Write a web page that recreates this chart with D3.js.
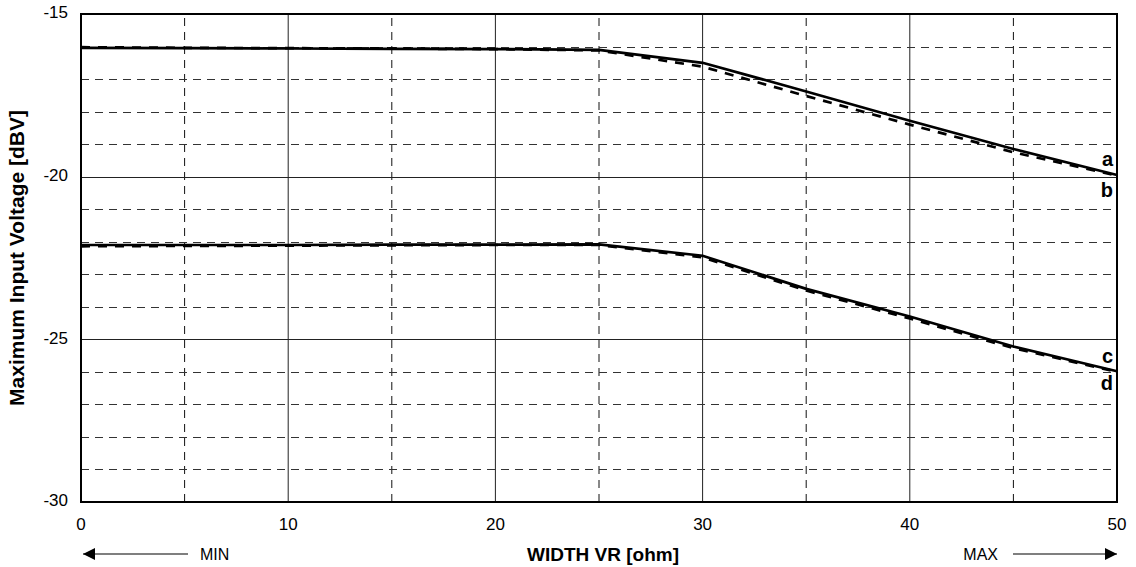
<!DOCTYPE html>
<html>
<head>
<meta charset="utf-8">
<script src="https://cdn.jsdelivr.net/npm/d3@7"></script>
<style>
  body { margin: 0; background: #fff; }
  svg { font-family: "Liberation Sans", Arial, sans-serif; }
</style>
</head>
<body>
<svg id="chart"></svg>
<script>
// data
var xPts = [0, 5, 10, 15, 20, 25, 30, 35, 40, 45, 50];
var seriesA = [-16.04, -16.05, -16.06, -16.07, -16.08, -16.1, -16.5, -17.38, -18.28, -19.15, -19.95];
var seriesB = [-16.02, -16.04, -16.05, -16.06, -16.08, -16.12, -16.62, -17.52, -18.4, -19.25, -19.97];
var seriesC = [-22.1, -22.1, -22.1, -22.09, -22.09, -22.08, -22.43, -23.45, -24.3, -25.22, -25.98];
var seriesD = [-22.14, -22.13, -22.12, -22.11, -22.1, -22.1, -22.48, -23.5, -24.36, -25.27, -26.0];
var xTicks = [0, 10, 20, 30, 40, 50];
var yTicks = [-15, -20, -25, -30];
var seriesLabels = ["a", "b", "c", "d"];
var labelValues = [-19.5, -20.45, -25.55, -26.4];

var width = 1136, height = 567;
var margin = {left: 81, right: 19, top: 14, bottom: 65};
var svg = d3.select("#chart").attr("width", width).attr("height", height);

var x = d3.scaleLinear().domain([0, 50]).range([margin.left, width - margin.right]);
var y = d3.scaleLinear().domain([-30, -15]).range([height - margin.bottom, margin.top]);

// grid
var g = svg.append("g");
d3.range(5, 50, 5).forEach(function(v) {
  var solid = v % 10 == 0;
  g.append("line")
    .attr("x1", x(v)).attr("x2", x(v))
    .attr("y1", y(-30)).attr("y2", y(-15))
    .attr("stroke", solid ? "#222" : "#111")
    .attr("stroke-width", 1)
    .attr("stroke-dasharray", solid ? null : "8,6");
});
d3.range(-29, -15, 1).forEach(function(v) {
  var solid = v % 5 == 0;
  g.append("line")
    .attr("x1", x(0)).attr("x2", x(50))
    .attr("y1", Math.round(y(v)) + 0.5).attr("y2", Math.round(y(v)) + 0.5)
    .attr("stroke", solid ? "#222" : "#333")
    .attr("stroke-width", 1)
    .attr("stroke-dasharray", solid ? null : "8,6");
});

// curves
var line = d3.line()
  .x(function(d, i) { return x(xPts[i]); })
  .y(function(d) { return y(d); });

[[seriesB, true], [seriesD, true], [seriesA, false], [seriesC, false]].forEach(function(s) {
  svg.append("path")
    .datum(s[0])
    .attr("d", line)
    .attr("fill", "none")
    .attr("stroke", "#000")
    .attr("stroke-width", 2.7)
    .attr("stroke-dasharray", s[1] ? "9,8" : null);
});

// frame
svg.append("rect")
  .attr("x", x(0)).attr("y", y(-15))
  .attr("width", x(50) - x(0)).attr("height", y(-30) - y(-15))
  .attr("fill", "none").attr("stroke", "#000").attr("stroke-width", 2);

// series labels
seriesLabels.forEach(function(l, i) {
  svg.append("text")
    .attr("x", x(50) - 4).attr("y", y(labelValues[i]))
    .attr("text-anchor", "end")
    .attr("dominant-baseline", "middle")
    .style("font-size", "20px").style("font-weight", "bold")
    .text(l);
});

// tick labels
yTicks.forEach(function(v) {
  svg.append("text")
    .attr("x", x(0) - 13).attr("y", y(v))
    .attr("text-anchor", "end").attr("dominant-baseline", "middle")
    .style("font-size", "17px")
    .text(v);
});
xTicks.forEach(function(v) {
  svg.append("text")
    .attr("x", x(v)).attr("y", y(-30) + 28)
    .attr("text-anchor", "middle")
    .style("font-size", "17px")
    .text(v);
});

// axis titles
svg.append("text")
  .attr("transform", "translate(24," + ((y(-15) + y(-30)) / 2) + ") rotate(-90)")
  .attr("text-anchor", "middle")
  .style("font-size", "21px").style("font-weight", "bold")
  .text("Maximum Input Voltage [dBV]");
svg.append("text")
  .attr("x", (x(0) + x(50)) / 2 + 4).attr("y", 561)
  .attr("text-anchor", "middle")
  .style("font-size", "19px").style("font-weight", "bold")
  .text("WIDTH VR [ohm]");

// MIN / MAX arrows
var defs = svg.append("defs");
defs.append("marker")
  .attr("id", "arrow")
  .attr("viewBox", "0 0 10 10")
  .attr("refX", 10).attr("refY", 5)
  .attr("markerWidth", 12).attr("markerHeight", 12)
  .attr("markerUnits", "userSpaceOnUse")
  .attr("orient", "auto")
  .append("path").attr("d", "M0,0L10,5L0,10Z").attr("fill", "#000");

svg.append("line")
  .attr("x1", 188).attr("x2", 83).attr("y1", 554).attr("y2", 554)
  .attr("stroke", "#000").attr("stroke-width", 1.2)
  .attr("marker-end", "url(#arrow)");
svg.append("text").attr("x", 200).attr("y", 560)
  .style("font-size", "16px").text("MIN");
svg.append("text").attr("x", 998).attr("y", 560)
  .attr("text-anchor", "end")
  .style("font-size", "16px").text("MAX");
svg.append("line")
  .attr("x1", 1013).attr("x2", 1117).attr("y1", 554).attr("y2", 554)
  .attr("stroke", "#000").attr("stroke-width", 1.2)
  .attr("marker-end", "url(#arrow)");
</script>
</body>
</html>
